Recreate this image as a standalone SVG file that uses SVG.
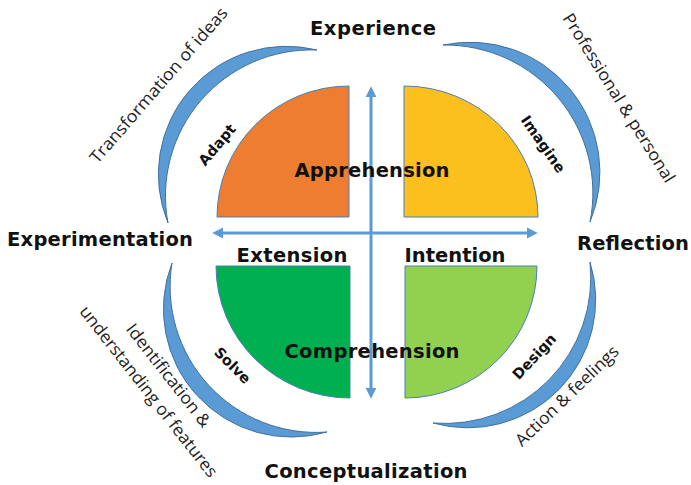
<svg xmlns="http://www.w3.org/2000/svg" width="691" height="485" viewBox="0 0 691 485">
<defs>
<style>
.q{stroke:#4a7ebb;stroke-width:1}
.cres{fill:#5b9bd5;stroke:#41719c;stroke-width:1}
.ax{stroke:#5b9bd5;stroke-width:3;fill:none;marker-start:url(#ah);marker-end:url(#ah)}
.big{font-family:"DejaVu Sans",Verdana,sans-serif;font-weight:bold;font-size:19.5px;fill:#111;text-anchor:middle}
.sm{font-family:"DejaVu Sans",Verdana,sans-serif;font-weight:bold;font-size:14.5px;fill:#111;text-anchor:middle}
.nr{font-family:"Open Sans","Noto Sans",sans-serif;font-size:17px;fill:#222;text-anchor:middle}
</style>
<marker id="ah" viewBox="0 0 10 10" refX="2" refY="5" markerUnits="userSpaceOnUse" markerWidth="11" markerHeight="12" orient="auto-start-reverse">
<path d="M0,0 L10,5 L0,10 z" fill="#5b9bd5"/>
</marker>
</defs>
<rect width="691" height="485" fill="#fff"/>

<g id="crescent-tl"><path class="cres" d="M317,50 A128,128 0 0 0 168,223 A146,146 0 0 1 317,50 Z"/></g>
<g id="crescent-tr"><path class="cres" d="M443,45 A130,130 0 0 1 590,222 A148,148 0 0 0 443,45 Z"/></g>
<g id="crescent-bl"><path class="cres" d="M172,263 A128,128 0 0 0 327,432 A146,146 0 0 1 172,263 Z"/></g>
<g id="crescent-br"><path class="cres" d="M590,262 A128,128 0 0 1 433,423 A146,146 0 0 0 590,262 Z"/></g>

<g id="quad-orange"><path class="q" fill="#ed7d31" d="M349,86 L349,217 L217,217 A132,131 0 0 1 349,86 Z"/></g>
<g id="quad-yellow"><path class="q" fill="#fbbf1e" d="M404,86 L404,217 L538,217 A134,131 0 0 0 404,86 Z"/></g>
<g id="quad-green"><path class="q" fill="#00b050" d="M216,266 L350,266 L350,398 A134,132 0 0 1 216,266 Z"/></g>
<g id="quad-lightgreen"><path class="q" fill="#92d050" d="M405,266 L537,266 A132,132 0 0 1 405,398 Z"/></g>

<g id="connectors">
<line class="ax" x1="371" y1="95" x2="371" y2="390"/>
<line class="ax" x1="221" y1="233" x2="529" y2="233"/>
</g>

<g id="labels">
<text class="big" x="373" y="35" textLength="126" lengthAdjust="spacing">Experience</text>
<text class="big" x="100" y="246" textLength="186" lengthAdjust="spacing">Experimentation</text>
<text class="big" x="633" y="250" textLength="112" lengthAdjust="spacing">Reflection</text>
<text class="big" x="366" y="478" textLength="203" lengthAdjust="spacing">Conceptualization</text>
<text class="big" x="292" y="262" textLength="111" lengthAdjust="spacing">Extension</text>
<text class="big" x="455" y="262" textLength="101" lengthAdjust="spacing">Intention</text>
<text class="big" x="372" y="177" textLength="155" lengthAdjust="spacing">Apprehension</text>
<text class="big" x="372" y="358" textLength="175" lengthAdjust="spacing">Comprehension</text>

<text class="sm" transform="translate(221,148) rotate(-50)">Adapt</text>
<text class="sm" transform="translate(539,147) rotate(55)">Imagine</text>
<text class="sm" transform="translate(229,369) rotate(45)">Solve</text>
<text class="sm" transform="translate(538,360) rotate(-47)">Design</text>

<text class="nr" transform="translate(163,89) rotate(-49)" textLength="200" lengthAdjust="spacingAndGlyphs">Transformation of ideas</text>
<text class="nr" transform="translate(614,101) rotate(58)" textLength="196" lengthAdjust="spacingAndGlyphs">Professional &amp; personal</text>
<text class="nr" transform="translate(164,379) rotate(52)" textLength="126" lengthAdjust="spacingAndGlyphs">Identification &amp;</text>
<text class="nr" transform="translate(144,395) rotate(52)" textLength="212" lengthAdjust="spacingAndGlyphs">understanding of features</text>
<text class="nr" transform="translate(571,400) rotate(-44)" textLength="136" lengthAdjust="spacingAndGlyphs">Action &amp; feelings</text>
</g>
</svg>
